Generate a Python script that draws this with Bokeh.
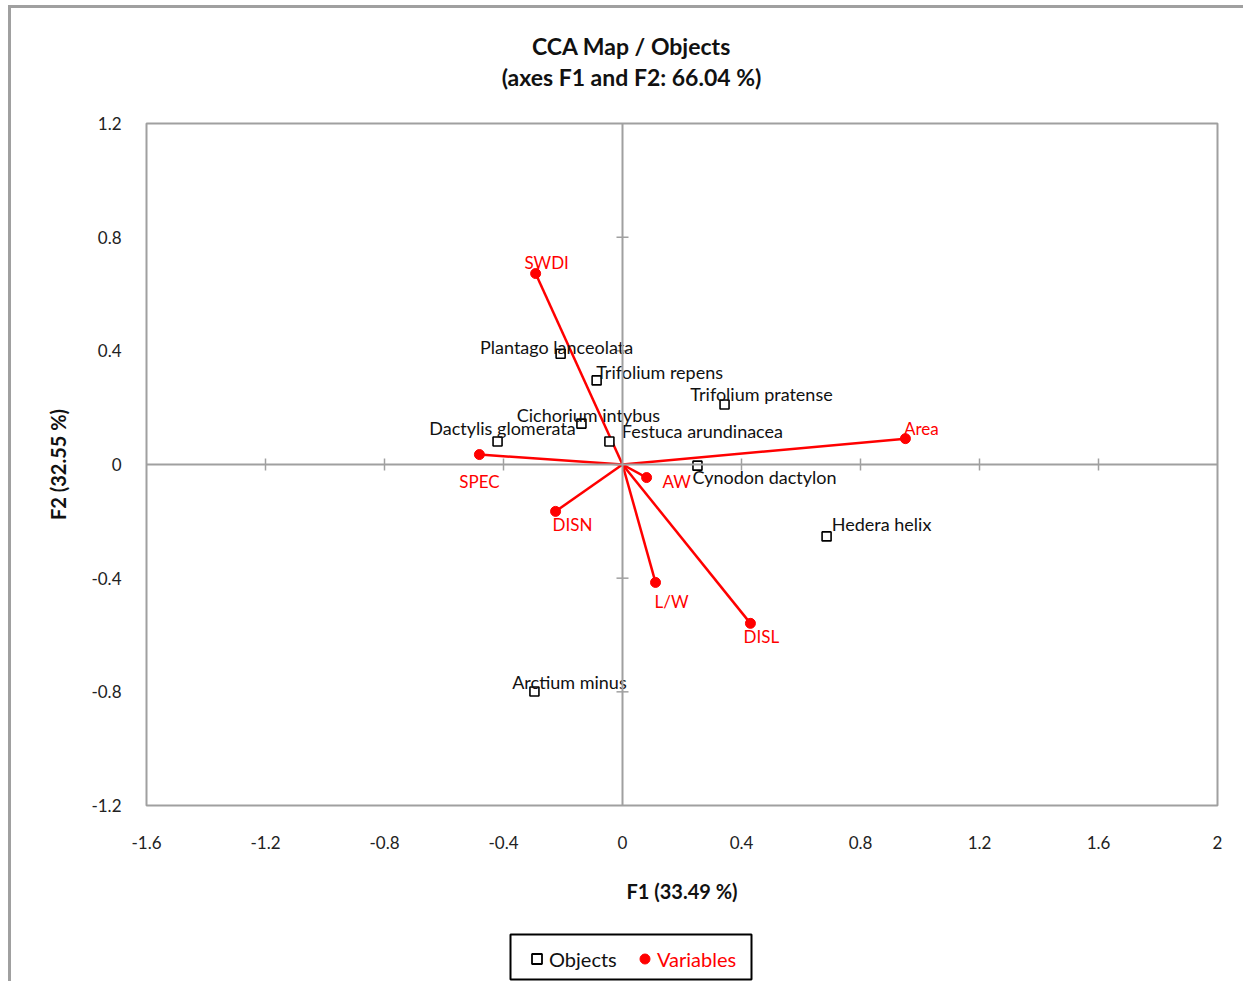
import math
from bokeh.plotting import figure
from bokeh.models import (ColumnDataSource, Span, Legend, LegendItem, FixedTicker, Range1d, Spacer)
from bokeh.layouts import column, row
from bokeh.core.properties import value
from bokeh.embed import file_html
from bokeh.resources import INLINE

# ---- data ----
obj_names = ["Plantago lanceolata", "Trifolium repens", "Trifolium pratense", "Cichorium intybus",
             "Dactylis glomerata", "Festuca arundinacea", "Cynodon dactylon", "Hedera helix", "Arctium minus"]
obj_f1 = [-0.208, -0.087, 0.343, -0.138, -0.420, -0.044, 0.252, 0.686, -0.296]
obj_f2 = [0.390, 0.296, 0.211, 0.144, 0.081, 0.081, -0.004, -0.253, -0.799]

var_names = ["SWDI", "Area", "SPEC", "AW", "DISN", "L/W", "DISL"]
var_f1 = [-0.292, 0.951, -0.481, 0.081, -0.225, 0.111, 0.430]
var_f2 = [0.672, 0.091, 0.035, -0.046, -0.165, -0.415, -0.559]

x_ticks = [-1.6, -1.2, -0.8, -0.4, 0, 0.4, 0.8, 1.2, 1.6, 2]
y_ticks = [-1.2, -0.8, -0.4, 0, 0.4, 0.8, 1.2]

title_lines = ["CCA Map / Objects", "(axes F1 and F2: 66.04 %)"]
legend_labels = ["Objects", "Variables"]

# ---- label placement (pixel offsets, layout only) ----
obj_dx = [-4, 63, 37, 7, 5, 93, 67, 55, 35]
obj_dy = [-7, -8, -11, -9, -13, -10, 11, -12, -10]
var_dx = [11, 16, 0, 30, 17, 16, 11]
var_dy = [-11, -10, 27, 4, 13, 19, 13]

FONT = "Lato"
RED = "#ff0000"
GRAY = "#a0a0a0"
TXT = "#111111"
W = 1243
FRAME_L, FRAME_R = 146, 1217   # frame spans these page columns (column layout aligns frames)

# ---- title strip ----
tf = figure(width=W, height=100, output_backend="svg", toolbar_location=None,
            x_axis_location=None, y_axis_location=None,
            x_range=Range1d(FRAME_L, FRAME_R), y_range=Range1d(100, 0),
            min_border_left=0, min_border_right=0, min_border_top=0, min_border_bottom=0)
tf.title.visible = False
tf.grid.visible = False
tf.outline_line_color = None
tf.background_fill_color = None
tf.border_fill_color = None
tf.text(x=[631, 631], y=[45, 76], text=title_lines, text_align="center", text_baseline="middle",
        text_font=value(FONT), text_font_size="23px", text_font_style="bold", text_color=TXT)

# ---- main plot ----
p = figure(width=W, height=820, output_backend="svg", toolbar_location=None,
           x_range=(-1.6, 2), y_range=(-1.2, 1.2),
           min_border_left=FRAME_L, min_border_right=W - FRAME_R, min_border_top=23, min_border_bottom=115)
p.border_fill_color = None
p.xgrid.visible = False
p.ygrid.visible = False
p.outline_line_color = GRAY
p.outline_line_width = 2

for ax in (p.xaxis[0], p.yaxis[0]):
    ax.axis_line_color = None
    ax.major_tick_line_color = None
    ax.minor_tick_line_color = None
    ax.major_tick_out = 0
    ax.major_tick_in = 0
    ax.minor_tick_out = 0
    ax.minor_tick_in = 0
    ax.major_label_text_font = FONT
    ax.major_label_text_font_size = "17px"
    ax.major_label_text_color = "#222222"
    ax.axis_label_text_font = FONT
    ax.axis_label_text_font_size = "20px"
    ax.axis_label_text_font_style = "bold"
    ax.axis_label_text_color = TXT

p.xaxis.ticker = FixedTicker(ticks=x_ticks)
p.yaxis.ticker = FixedTicker(ticks=y_ticks)
p.xaxis.major_label_overrides = {t: ("%g" % t) for t in x_ticks}
p.yaxis.major_label_overrides = {t: ("%g" % t) for t in y_ticks}
p.xaxis.major_label_standoff = 30
p.yaxis.major_label_standoff = 25
p.xaxis.axis_label = "F1 (33.49 %)"
p.yaxis.axis_label = "F2 (32.55 %)"
p.xaxis.axis_label_standoff = 27
p.yaxis.axis_label_standoff = 18

# central axes with cross ticks
p.add_layout(Span(location=0, dimension="width", line_color=GRAY, line_width=2))
p.add_layout(Span(location=0, dimension="height", line_color=GRAY, line_width=2))
xt = [t for t in x_ticks if t not in (0, x_ticks[0], x_ticks[-1])]
yt = [t for t in y_ticks if t not in (0, y_ticks[0], y_ticks[-1])]
p.scatter(xt, [0] * len(xt), marker="dash", angle=math.pi / 2, size=12, line_color=GRAY, line_width=1.5)
p.scatter([0] * len(yt), yt, marker="dash", size=12, line_color=GRAY, line_width=1.5)

# variables
vsrc = ColumnDataSource(dict(x=var_f1, y=var_f2, x0=[0] * len(var_f1), y0=[0] * len(var_f1),
                             name=var_names, dx=var_dx, dy=var_dy))
p.segment(x0="x0", y0="y0", x1="x", y1="y", source=vsrc, line_color=RED, line_width=2.5)
p.scatter("x", "y", source=vsrc, marker="circle", size=10, fill_color=RED, line_color=RED)
p.text("x", "y", text="name", source=vsrc, x_offset="dx", y_offset="dy", text_align="center",
       text_baseline="middle", text_font=value(FONT), text_font_size="17px", text_color=RED)

# objects
osrc = ColumnDataSource(dict(x=obj_f1, y=obj_f2, name=obj_names, dx=obj_dx, dy=obj_dy))
p.scatter("x", "y", source=osrc, marker="square", size=9, fill_color="white",
          line_color="black", line_width=1.6)
p.text("x", "y", text="name", source=osrc, x_offset="dx", y_offset="dy", text_align="center",
       text_baseline="middle", text_font=value(FONT), text_font_size="18px", text_color=TXT)

# ---- legend box ----
lf = figure(width=245, height=49, output_backend="svg", toolbar_location=None,
            x_axis_location=None, y_axis_location=None,
            x_range=Range1d(0, 1), y_range=Range1d(0, 1), min_border=2)
lf.title.visible = False
lf.grid.visible = False
lf.outline_line_color = "black"
lf.outline_line_width = 2
lf.border_fill_color = None
lf.background_fill_color = "white"
# swatch renderers (kept outside the visible range; only their legend glyphs show)
d_obj = lf.scatter([-5], [-5], marker="square", size=9, fill_color="white", line_color="black", line_width=1.8)
d_var = lf.scatter([-5], [-5], marker="circle", size=10, fill_color=RED, line_color=RED)
common = dict(padding=0, margin=0, glyph_width=25, glyph_height=25, label_standoff=0, label_height=21,
              border_line_color=None, background_fill_alpha=0, label_text_font=FONT,
              label_text_font_size="20px")
leg1 = Legend(items=[LegendItem(label=legend_labels[0], renderers=[d_obj])], location=(14, 8),
              label_text_color=TXT, **common)
leg2 = Legend(items=[LegendItem(label=legend_labels[1], renderers=[d_var])], location=(122, 8),
              label_text_color=RED, **common)
lf.add_layout(leg1)
lf.add_layout(leg2)

layout = column(tf, p, Spacer(width=10, height=12), row(Spacer(width=508, height=49), lf), spacing=0)
layout.styles = {"box-shadow": "inset 8px 5px 0 0 #ffffff, inset 11px 8px 0 0 #a0a0a0"}

open("out.html", "w").write(file_html(layout, INLINE))
